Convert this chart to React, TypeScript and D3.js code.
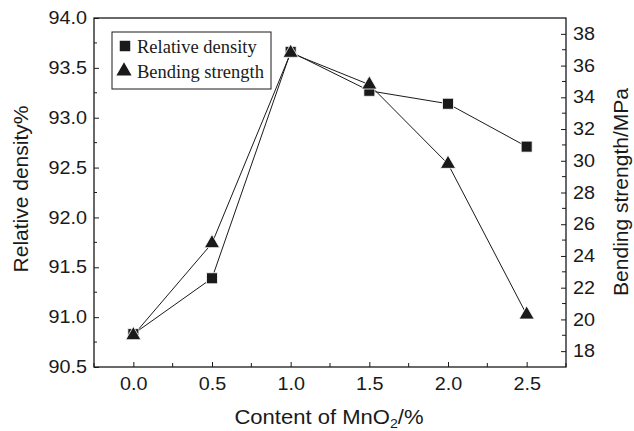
import React, { useRef, useEffect } from "react";
import * as d3 from "d3";

const contents = [0, 0.5, 1.0, 1.5, 2.0, 2.5];
const relativeDensity = [90.83, 91.39, 93.66, 93.27, 93.14, 92.71];
const bendingStrength = [19.0, 24.8, 36.8, 34.8, 29.8, 20.3];
const xTicks = [0, 0.5, 1.0, 1.5, 2.0, 2.5];
const leftTicks = [90.5, 91.0, 91.5, 92.0, 92.5, 93.0, 93.5, 94.0];
const rightTicks = [18, 20, 22, 24, 26, 28, 30, 32, 34, 36, 38];

const App = () => {
  const svgRef = useRef<SVGSVGElement>(null);

  const W = 634,
    H = 431;
  const margin = { top: 18, right: 68, bottom: 64, left: 94 };
  const width = W - margin.left - margin.right,
    height = H - margin.top - margin.bottom;

  useEffect(() => {
    const root = d3.select(svgRef.current);
    root.selectAll("*").remove();
    const svg = root.append("g").attr("transform", `translate(${margin.left},${margin.top})`);

    const x = d3.scaleLinear().domain([-0.25, 2.75]).range([0, width]);
    const yL = d3.scaleLinear().domain([90.5, 94.0]).range([height, 0]);
    const yR = d3.scaleLinear().domain([17, 39]).range([height, 0]);

    const sans = "'Liberation Sans', Arial, sans-serif";
    const serif = "'Liberation Serif', 'Times New Roman', serif";
    const ink = "#1a1a1a";

    // the scanned figure is a bit wider than tall, so widen horizontal text
    const stretch = (sel: any, k: number) => {
      sel.each(function (this: SVGTextElement) {
        const len = this.getComputedTextLength();
        d3.select(this).attr("textLength", len * k).attr("lengthAdjust", "spacingAndGlyphs");
      });
    };

    // frame
    svg
      .append("rect")
      .attr("width", width)
      .attr("height", height)
      .attr("fill", "none")
      .attr("stroke", ink)
      .attr("stroke-width", 1.3);

    // bottom axis, ticks inward
    const xMinor = [-0.25, 0.25, 0.75, 1.25, 1.75, 2.25, 2.75];
    const bottom = svg.append("g").attr("transform", `translate(0,${height})`);
    bottom
      .call(d3.axisBottom(x).tickValues(xTicks).tickSize(-5).tickPadding(11).tickFormat(d3.format(".1f")))
      .call((g) => g.select(".domain").remove());
    bottom.selectAll("line").attr("stroke", ink);
    bottom
      .selectAll("text")
      .attr("font-family", sans)
      .attr("font-size", 17.5)
      .attr("fill", ink)
      .call(stretch, 1.13);
    bottom
      .selectAll(".minor")
      .data(xMinor)
      .enter()
      .append("line")
      .attr("x1", (d) => x(d))
      .attr("x2", (d) => x(d))
      .attr("y1", 0)
      .attr("y2", -4)
      .attr("stroke", ink);

    // left axis, ticks inward
    const left = svg.append("g");
    left
      .call(d3.axisLeft(yL).tickValues(leftTicks).tickSize(-5).tickPadding(7).tickFormat(d3.format(".1f")))
      .call((g) => g.select(".domain").remove());
    left.selectAll("line").attr("stroke", ink);
    left
      .selectAll("text")
      .attr("font-family", sans)
      .attr("font-size", 17.5)
      .attr("fill", ink)
      .call(stretch, 1.13);
    left
      .selectAll(".minor")
      .data(d3.range(90.75, 94, 0.5))
      .enter()
      .append("line")
      .attr("x1", 0)
      .attr("x2", 3)
      .attr("y1", (d) => yL(d))
      .attr("y2", (d) => yL(d))
      .attr("stroke", ink);

    // right axis, ticks inward
    const right = svg.append("g").attr("transform", `translate(${width},0)`);
    right
      .call(d3.axisRight(yR).tickValues(rightTicks).tickSize(-5).tickPadding(7))
      .call((g) => g.select(".domain").remove());
    right.selectAll("line").attr("stroke", ink);
    right
      .selectAll("text")
      .attr("font-family", sans)
      .attr("font-size", 17.5)
      .attr("fill", ink)
      .call(stretch, 1.13);
    right
      .selectAll(".minor")
      .data(d3.range(19, 39, 2))
      .enter()
      .append("line")
      .attr("x1", 0)
      .attr("x2", -4)
      .attr("y1", (d) => yR(d))
      .attr("y2", (d) => yR(d))
      .attr("stroke", ink);

    // axis labels
    svg
      .append("text")
      .attr("x", width / 2 - 1)
      .attr("y", height + 57)
      .attr("text-anchor", "middle")
      .attr("font-family", sans)
      .attr("font-size", 19.5)
      .attr("fill", ink)
      .call((t) => {
        t.append("tspan").text("Content of MnO");
        t.append("tspan").attr("font-size", 12.5).attr("dy", 3.5).text("2");
        t.append("tspan").attr("dy", -3.5).text("/%");
      })
      .call(stretch, 1.13);

    svg
      .append("text")
      .attr("transform", "rotate(-90)")
      .attr("x", -171)
      .attr("y", -66)
      .attr("text-anchor", "middle")
      .attr("font-family", sans)
      .attr("font-size", 21)
      .attr("fill", ink)
      .text("Relative density%");

    svg
      .append("text")
      .attr("transform", "rotate(-90)")
      .attr("x", -174)
      .attr("y", width + 62)
      .attr("text-anchor", "middle")
      .attr("font-family", sans)
      .attr("font-size", 21)
      .attr("fill", ink)
      .text("Bending strength/MPa");

    // lines
    const lineL = d3
      .line<number>()
      .x((_, i) => x(contents[i]))
      .y((d) => yL(d));
    const lineR = d3
      .line<number>()
      .x((_, i) => x(contents[i]))
      .y((d) => yR(d));

    svg
      .append("path")
      .attr("d", lineL(relativeDensity))
      .attr("fill", "none")
      .attr("stroke", ink)
      .attr("stroke-width", 1);
    svg
      .append("path")
      .attr("d", lineR(bendingStrength))
      .attr("fill", "none")
      .attr("stroke", ink)
      .attr("stroke-width", 1);

    const tri = d3.symbol().type(d3.symbolTriangle).size(100);
    const sq = d3.symbol().type(d3.symbolSquare).size(121);

    svg
      .selectAll(".sq")
      .data(relativeDensity)
      .enter()
      .append("path")
      .attr("d", sq)
      .attr("transform", (d, i) => `translate(${x(contents[i])},${yL(d)})`)
      .attr("fill", ink)
      .attr("stroke", "#fff")
      .attr("stroke-width", 0.8);

    svg
      .selectAll(".tri")
      .data(bendingStrength)
      .enter()
      .append("path")
      .attr("d", tri)
      .attr("transform", (d, i) => `translate(${x(contents[i])},${yR(d)})`)
      .attr("fill", ink)
      .attr("stroke", "#fff")
      .attr("stroke-width", 0.8);

    // legend
    const lg = svg.append("g").attr("transform", "translate(18,14)");
    lg.append("rect")
      .attr("width", 159)
      .attr("height", 57)
      .attr("fill", "#fff")
      .attr("stroke", ink)
      .attr("stroke-width", 1);
    lg.append("path")
      .attr("d", d3.symbol().type(d3.symbolSquare).size(110)())
      .attr("transform", "translate(13,14)")
      .attr("fill", ink);
    lg.append("path")
      .attr("d", d3.symbol().type(d3.symbolTriangle).size(100)())
      .attr("transform", "translate(12,39)")
      .attr("fill", ink);
    lg.append("text")
      .attr("x", 25)
      .attr("y", 21)
      .attr("font-family", serif)
      .attr("font-size", 18.5)
      .attr("fill", ink)
      .text("Relative density");
    lg.append("text")
      .attr("x", 25)
      .attr("y", 46)
      .attr("font-family", serif)
      .attr("font-size", 18.5)
      .attr("fill", ink)
      .text("Bending strength");
  }, []);

  return <svg ref={svgRef} width={W} height={H} style={{ position: "absolute", left: 0, top: 0, background: "#fff" }} />;
};

export default App;
